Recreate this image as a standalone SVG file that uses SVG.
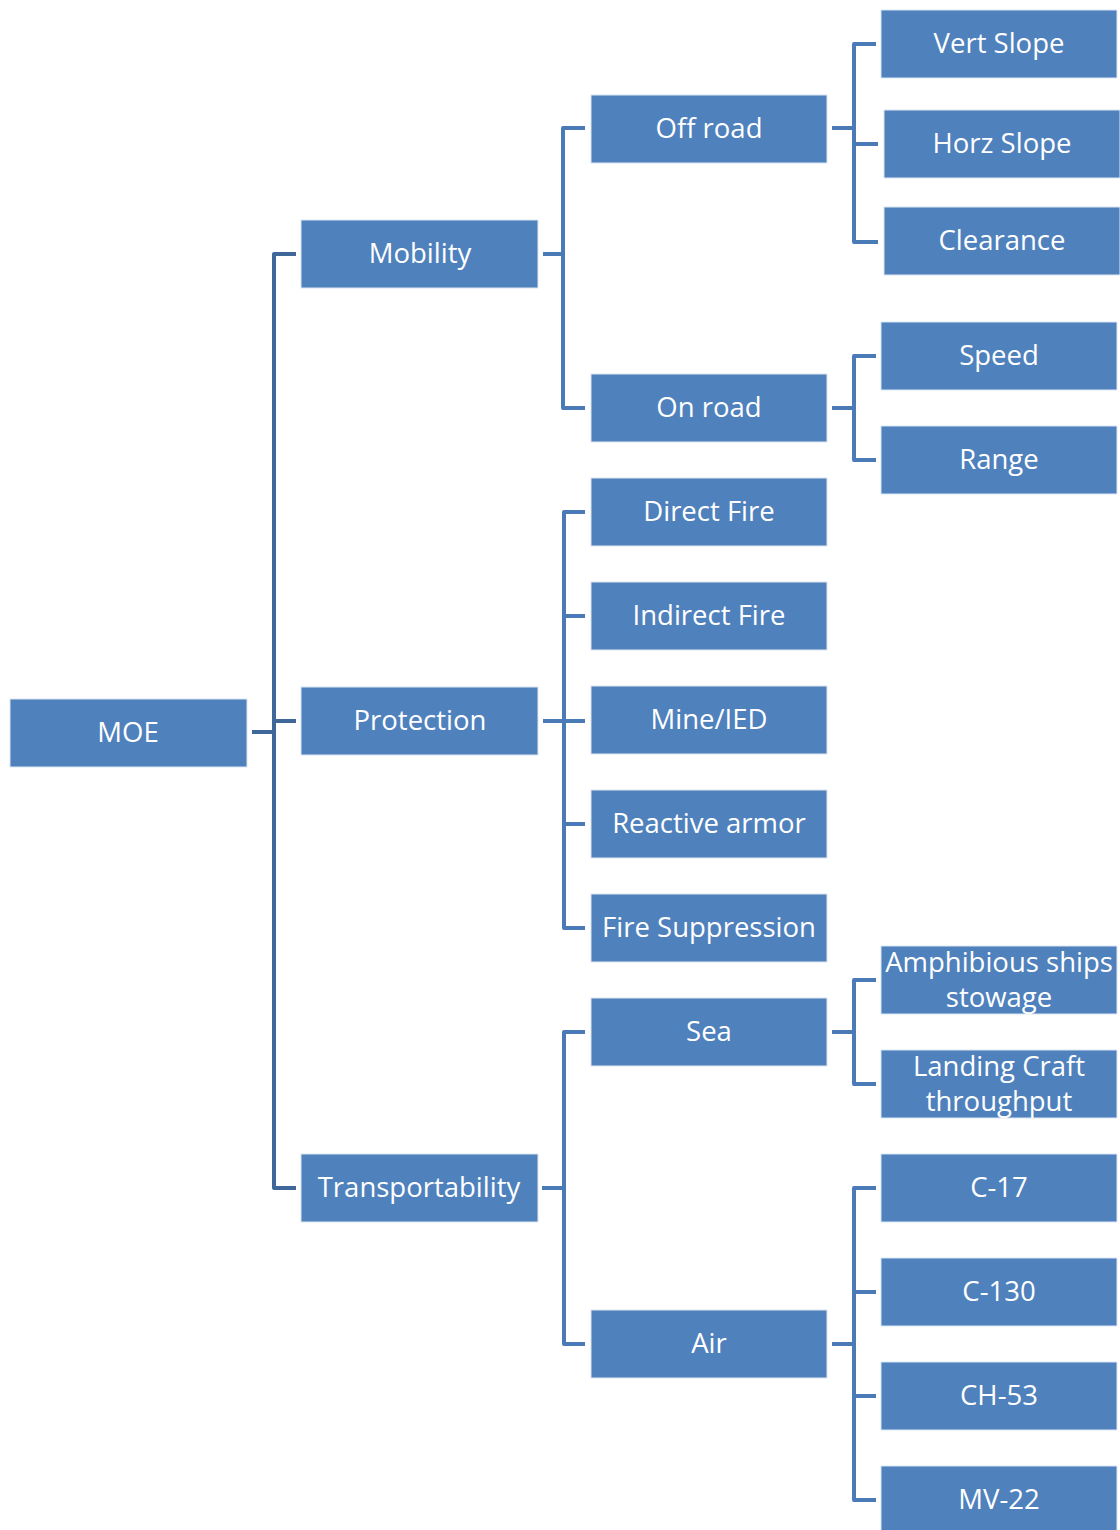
<svg xmlns="http://www.w3.org/2000/svg" width="1120" height="1530" viewBox="0 0 1120 1530">
<style>
.box{fill:#4F81BD;stroke:#DCE6F2;stroke-width:1}
.t{fill:#FFFFFF;font-family:"Open Sans","Liberation Sans",sans-serif;font-size:27.5px;text-anchor:middle;dominant-baseline:central}
.c1{fill:none;stroke:#3F6799;stroke-width:4;stroke-linejoin:round}
.c2{fill:none;stroke:#4A7BB7;stroke-width:4;stroke-linejoin:round}
</style>
<rect width="1120" height="1530" fill="#FFFFFF"/>
<g id="connectors">
<path class="c1" d="M252 732H274M296 254H274V1188H296M274 721H296"/>
<path class="c2" d="M543 254H563M585 128H563V408H585"/>
<path class="c2" d="M543 721H585M585 512H564V928H585M564 616H585M564 824H585"/>
<path class="c2" d="M542 1188H564M585 1032H564V1344H585"/>
<path class="c2" d="M832 128H855M876 44H854V242H878M855 144H878"/>
<path class="c2" d="M832 408H854M876 356H854V460H876"/>
<path class="c2" d="M832 1032H854M876 980H854V1084H876"/>
<path class="c2" d="M832 1344H854M876 1188H854V1500H876M854 1292H876M854 1396H876"/>
</g>
<g id="n-moe"><rect class="box" x="10" y="699" width="237" height="68"/><text class="t" x="128" y="731">MOE</text></g>
<g id="n-mobility"><rect class="box" x="301" y="220" width="237" height="68"/><text class="t" x="420" y="252">Mobility</text></g>
<g id="n-protection"><rect class="box" x="301" y="687" width="237" height="68"/><text class="t" x="420" y="719">Protection</text></g>
<g id="n-transportability"><rect class="box" x="301" y="1154" width="237" height="68"/><text class="t" x="419" y="1186">Transportability</text></g>
<g id="n-offroad"><rect class="box" x="591" y="95" width="236" height="68"/><text class="t" x="709" y="127">Off road</text></g>
<g id="n-onroad"><rect class="box" x="591" y="374" width="236" height="68"/><text class="t" x="709" y="406">On road</text></g>
<g id="n-directfire"><rect class="box" x="591" y="478" width="236" height="68"/><text class="t" x="709" y="510">Direct Fire</text></g>
<g id="n-indirectfire"><rect class="box" x="591" y="582" width="236" height="68"/><text class="t" x="709" y="614">Indirect Fire</text></g>
<g id="n-mineied"><rect class="box" x="591" y="686" width="236" height="68"/><text class="t" x="709" y="718">Mine/IED</text></g>
<g id="n-reactive"><rect class="box" x="591" y="790" width="236" height="68"/><text class="t" x="709" y="822">Reactive armor</text></g>
<g id="n-firesupp"><rect class="box" x="591" y="894" width="236" height="68"/><text class="t" x="709" y="926">Fire Suppression</text></g>
<g id="n-sea"><rect class="box" x="591" y="998" width="236" height="68"/><text class="t" x="709" y="1030">Sea</text></g>
<g id="n-air"><rect class="box" x="591" y="1310" width="236" height="68"/><text class="t" x="709" y="1342">Air</text></g>
<g id="n-vertslope"><rect class="box" x="881" y="10" width="236" height="68"/><text class="t" x="999" y="42">Vert Slope</text></g>
<g id="n-horzslope"><rect class="box" x="884" y="110" width="236" height="68"/><text class="t" x="1002" y="142">Horz Slope</text></g>
<g id="n-clearance"><rect class="box" x="884" y="207" width="236" height="68"/><text class="t" x="1002" y="239">Clearance</text></g>
<g id="n-speed"><rect class="box" x="881" y="322" width="236" height="68"/><text class="t" x="999" y="354">Speed</text></g>
<g id="n-range"><rect class="box" x="881" y="426" width="236" height="68"/><text class="t" x="999" y="458">Range</text></g>
<g id="n-amphib"><rect class="box" x="881" y="946" width="236" height="68"/><text class="t" x="999" y="961">Amphibious ships</text><text class="t" x="999" y="996">stowage</text></g>
<g id="n-landing"><rect class="box" x="881" y="1050" width="236" height="68"/><text class="t" x="999" y="1065">Landing Craft</text><text class="t" x="999" y="1100">throughput</text></g>
<g id="n-c17"><rect class="box" x="881" y="1154" width="236" height="68"/><text class="t" x="999" y="1186">C-17</text></g>
<g id="n-c130"><rect class="box" x="881" y="1258" width="236" height="68"/><text class="t" x="999" y="1290">C-130</text></g>
<g id="n-ch53"><rect class="box" x="881" y="1362" width="236" height="68"/><text class="t" x="999" y="1394">CH-53</text></g>
<g id="n-mv22"><rect class="box" x="881" y="1466" width="236" height="68"/><text class="t" x="999" y="1498">MV-22</text></g>
</svg>
